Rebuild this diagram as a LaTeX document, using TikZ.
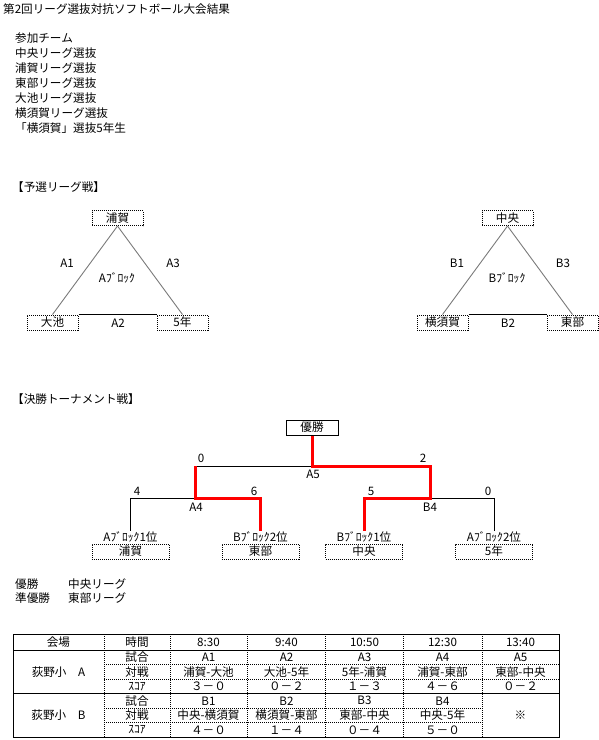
\documentclass[tikz,border=0pt]{standalone}
\usepackage{fontspec}
\setmainfont{Noto Sans CJK JP}
\usetikzlibrary{positioning}
\definecolor{winred}{HTML}{FF0000}
\definecolor{edgegray}{HTML}{7A7A7A}
\tikzset{
  txt/.style={inner sep=0pt, font=\fontsize{11.6}{13}\selectfont},
  ltxt/.style={txt, anchor=west},
  teambox/.style={draw, dash pattern=on 1pt off 1pt, line width=1pt, fill=white,
                  inner sep=0pt, minimum width=51pt, minimum height=15pt,
                  font=\fontsize{11.6}{13}\selectfont},
  finalbox/.style={teambox, minimum width=77pt},
  cupbox/.style={draw, line width=1pt, inner sep=0pt, minimum width=52pt,
                 minimum height=15pt, font=\fontsize{11.6}{13}\selectfont},
  side/.style={line width=0.9pt, color=edgegray},
  base/.style={line width=1pt, color=black},
  line/.style={line width=1pt, color=black},
  win/.style={line width=3pt, color=winred, line join=miter},
  solidrule/.style={line width=1pt},
  dotrule/.style={line width=1pt, dash pattern=on 1pt off 1pt}}

\begin{document}
\begin{tikzpicture}[x=1pt, y=-1pt]
  \useasboundingbox (0,0) rectangle (599,740);

  % title and teams
  \node[ltxt] (title) at (3,9) {第2回リーグ選抜対抗ソフトボール大会結果};
  \foreach \t [count=\i] in {参加チーム,中央リーグ選抜,浦賀リーグ選抜,東部リーグ選抜,
                             大池リーグ選抜,横須賀リーグ選抜,「横須賀」選抜5年生}
    \node[ltxt] (team\i) at (15,{38+15*(\i-1)}) {\t};

  % league
  \node[ltxt] (leaguehd) at (12,187) {【予選リーグ戦】};

  \node[teambox] (ura)   at (117.5,218) {浦賀};
  \node[teambox] (oike)  at (52.5,322.5) {大池};
  \node[teambox] (gonen) at (182.5,322.5) {5年};
  \draw[side] (ura.south) -- (oike.north);
  \draw[side] (ura.south) -- (gonen.north);
  \draw[base] (oike.north east) -- (gonen.north west);
  \node[txt] (a1) at (67,263) {A1};
  \node[txt] (a3) at (173,263) {A3};
  \node[txt] (a2) at (118,323) {A2};
  \node[txt] (ablk) at (117,278) {Aﾌﾞﾛｯｸ};

  \node[teambox] (chuo)  at (507.5,218) {中央};
  \node[teambox] (yoko)  at (442.5,322.5) {横須賀};
  \node[teambox] (tobu)  at (572.5,322.5) {東部};
  \draw[side] (chuo.south) -- (yoko.north);
  \draw[side] (chuo.south) -- (tobu.north);
  \draw[base] (yoko.north east) -- (tobu.north west);
  \node[txt] (b1) at (457,263) {B1};
  \node[txt] (b3) at (563,263) {B3};
  \node[txt] (b2) at (508,323) {B2};
  \node[txt] (bblk) at (507,278) {Bﾌﾞﾛｯｸ};

  % tournament
  \node[ltxt] (finalhd) at (12,399) {【決勝トーナメント戦】};
  \node[cupbox] (yusho) at (312,427.5) {優勝};
  \coordinate (a5) at (312,466);
  \coordinate (a4) at (195,498);
  \coordinate (b4) at (430,498);

  \node[txt, anchor=north] (s1) at (130.5,531) {Aﾌﾞﾛｯｸ1位};
  \node[txt, anchor=north] (s2) at (260.5,531) {Bﾌﾞﾛｯｸ2位};
  \node[txt, anchor=north] (s3) at (364,531) {Bﾌﾞﾛｯｸ1位};
  \node[txt, anchor=north] (s4) at (494,531) {Aﾌﾞﾛｯｸ2位};
  \node[finalbox] (f1) at (130.5,551.5) {浦賀};
  \node[finalbox] (f2) at (260.5,551.5) {東部};
  \node[finalbox] (f3) at (364,551.5) {中央};
  \node[finalbox] (f4) at (494,551.5) {5年};

  \draw[line] (a4 |- a5) -- (a5);
  \draw[line] (a4) -| (s1.north);
  \draw[line] (b4) -| (s4.north);
  \draw[win] (yusho.south) -- (a5) -| (b4) -| (s3.north);
  \draw[win] (a4 |- a5) -- (a4) -| (s2.north);

  \node[txt] (sc1) at (201,458) {0};
  \node[txt] (sc2) at (423,458) {2};
  \node[txt] (sc3) at (137,491) {4};
  \node[txt] (sc4) at (254,491) {6};
  \node[txt] (sc5) at (371,491) {5};
  \node[txt] (sc6) at (488,491) {0};
  \node[txt] (ma5) at (313,474) {A5};
  \node[txt] (ma4) at (196,507) {A4};
  \node[txt] (mb4) at (430,507) {B4};

  % result
  \node[ltxt] (r1) at (15,584) {優勝};
  \node[ltxt] (r2) at (68,584) {中央リーグ};
  \node[ltxt] (r3) at (15,598) {準優勝};
  \node[ltxt] (r4) at (68,598) {東部リーグ};

  % table
  \draw[solidrule] (13,634) rectangle (559,737);
  \draw[solidrule] (13,650) -- (559,650);
  \draw[solidrule] (13,693.5) -- (559,693.5);
  \foreach \x in {104,170,247,325,403,482}
    \draw[dotrule] (\x,634) -- (\x,737);
  \foreach \y in {664.5,679}
    \draw[dotrule] (104,\y) -- (559,\y);
  \foreach \y in {708,722.5}
    \draw[dotrule] (104,\y) -- (482,\y);

  \node[txt] (hvenue) at (58.5,642) {会場};
  \node[txt] (htime) at (137,642) {時間};
  \foreach \t [count=\i] in {8:30,9:40,10:50,12:30,13:40}
    \node[txt] (h\i) at ({208.5+78*(\i-1)},642) {\t};

  \node[txt] (venuea) at (58.5,672) {荻野小　A};
  \node[txt] (venueb) at (58.5,715.5) {荻野小　B};
  \foreach \r/\y in {1/657.25,2/700.75}
    \node[txt] (game\r) at (137,\y) {試合};
  \foreach \r/\y in {1/671.75,2/715.25}
    \node[txt] (match\r) at (137,\y) {対戦};
  \foreach \r/\y in {1/686.25,2/729.75}
    \node[txt] (score\r) at (137,\y) {ｽｺｱ};

  \foreach \g/\m/\s [count=\i] in {A1/浦賀-大池/３－０, A2/大池-5年/０－２,
      A3/5年-浦賀/１－３, A4/浦賀-東部/４－６, A5/東部-中央/０－２} {
    \node[txt] (ga\i) at ({208.5+78*(\i-1)},657.25) {\g};
    \node[txt] (ma\i) at ({208.5+78*(\i-1)},671.75) {\m};
    \node[txt] (sa\i) at ({208.5+78*(\i-1)},686.25) {\s};
  }
  \foreach \g/\m/\s [count=\i] in {B1/中央-横須賀/４－０, B2/横須賀-東部/１－４,
      B3/東部-中央/０－４, B4/中央-5年/５－０} {
    \node[txt] (gb\i) at ({208.5+78*(\i-1)},700.75) {\g};
    \node[txt] (mb\i) at ({208.5+78*(\i-1)},715.25) {\m};
    \node[txt] (sb\i) at ({208.5+78*(\i-1)},729.75) {\s};
  }
  \node[txt] (none) at (520.5,715.5) {※};
\end{tikzpicture}
\end{document}
